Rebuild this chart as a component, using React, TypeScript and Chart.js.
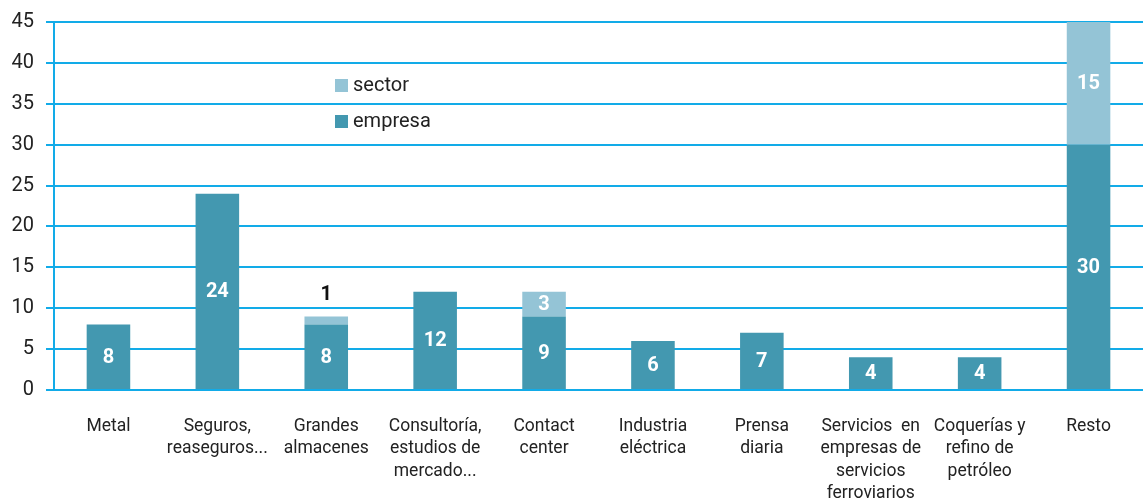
import React, { useEffect, useRef } from "react";
import { Chart, registerables } from "chart.js";

Chart.register(...registerables);

const categories: (string | string[])[] = [
  "Metal",
  ["Seguros,", "reaseguros..."],
  ["Grandes", "almacenes"],
  ["Consultoría,", "estudios de", "mercado..."],
  ["Contact", "center"],
  ["Industria", "eléctrica"],
  ["Prensa", "diaria"],
  ["Servicios  en", "empresas de", "servicios", "ferroviarios"],
  ["Coquerías y", "refino de", "petróleo"],
  "Resto",
];
const empresa = [8, 24, 8, 12, 9, 6, 7, 4, 4, 30];
const sector = [0, 0, 1, 0, 3, 0, 0, 0, 0, 15];
const yTicks = [0, 5, 10, 15, 20, 25, 30, 35, 40, 45];

const EMPRESA_COLOR = "#4398b0";
const SECTOR_COLOR = "#94c4d6";
const GRID_COLOR = "#12abe8";
const FONT = "Roboto, 'Noto Sans', sans-serif";

const labelPlugin = {
  id: "barLabels",
  afterDatasetsDraw(chart: any) {
    const ctx = chart.ctx;
    ctx.save();
    ctx.textAlign = "center";
    ctx.textBaseline = "middle";
    chart.data.datasets.forEach((ds: any, di: number) => {
      const meta = chart.getDatasetMeta(di);
      meta.data.forEach((bar: any, i: number) => {
        const v = ds.data[i];
        if (!v) return;
        const h = Math.abs(bar.base - bar.y);
        if (h < 16) {
          ctx.fillStyle = "#111";
          ctx.font = `bold 20px ${FONT}`;
          ctx.fillText(String(v), bar.x, bar.y - 21);
        } else {
          ctx.fillStyle = "#ffffff";
          ctx.font = `bold 20px ${FONT}`;
          ctx.fillText(String(v), bar.x, (bar.y + bar.base) / 2 + 1);
        }
      });
    });
    ctx.restore();
  },
};

const legendPlugin = {
  id: "innerLegend",
  afterDraw(chart: any) {
    const ctx = chart.ctx;
    ctx.save();
    const items = [
      { text: "sector", color: SECTOR_COLOR, y: 86 },
      { text: "empresa", color: EMPRESA_COLOR, y: 122 },
    ];
    ctx.font = `20px ${FONT}`;
    ctx.textBaseline = "middle";
    ctx.textAlign = "left";
    items.forEach((it) => {
      ctx.fillStyle = it.color;
      ctx.fillRect(335, it.y - 7, 13, 13);
      ctx.fillStyle = "#222";
      ctx.fillText(it.text, 353, it.y);
    });
    ctx.restore();
  },
};

export default function App() {
  const ref = useRef<HTMLCanvasElement | null>(null);

  useEffect(() => {
    document.body.style.margin = "0";
    if (!ref.current) return;
    const chart = new Chart(ref.current, {
      type: "bar",
      data: {
        labels: categories,
        datasets: [
          {
            label: "empresa",
            data: empresa,
            backgroundColor: EMPRESA_COLOR,
            barPercentage: 0.4,
            categoryPercentage: 1,
          },
          {
            label: "sector",
            data: sector,
            backgroundColor: SECTOR_COLOR,
            barPercentage: 0.4,
            categoryPercentage: 1,
          },
        ],
      },
      options: {
        animation: false,
        responsive: false,
        maintainAspectRatio: false,
        layout: { padding: { top: 21, right: 0, left: 0, bottom: 0 } },
        plugins: {
          legend: { display: false },
          tooltip: { enabled: false },
        },
        scales: {
          x: {
            stacked: true,
            grid: { display: false, drawTicks: false },
            border: { display: false },
            ticks: {
              autoSkip: false,
              maxRotation: 0,
              minRotation: 0,
              padding: 25,
              color: "#222",
              font: { family: FONT, size: 17.5, lineHeight: 1.29 },
            },
            afterFit(scale: any) {
              scale.height = 112;
            },
          },
          y: {
            stacked: true,
            min: 0,
            max: 45,
            afterBuildTicks(scale: any) {
              scale.ticks = yTicks.map((v) => ({ value: v }));
            },
            grid: {
              color: GRID_COLOR,
              lineWidth: 2,
              tickLength: 8,
              drawTicks: true,
            },
            border: { display: true, color: GRID_COLOR, width: 2 },
            ticks: {
              color: "#222",
              padding: 12,
              font: { family: FONT, size: 20, lineHeight: 1 },
            },
            afterFit(scale: any) {
              scale.width = 54;
            },
          },
        },
      },
      plugins: [labelPlugin, legendPlugin],
    });
    return () => chart.destroy();
  }, []);

  return (
    <div style={{ position: "absolute", left: 0, top: 0, width: 1143, height: 502 }}>
      <canvas ref={ref} width={1143} height={502} style={{ width: 1143, height: 502 }} />
    </div>
  );
}
